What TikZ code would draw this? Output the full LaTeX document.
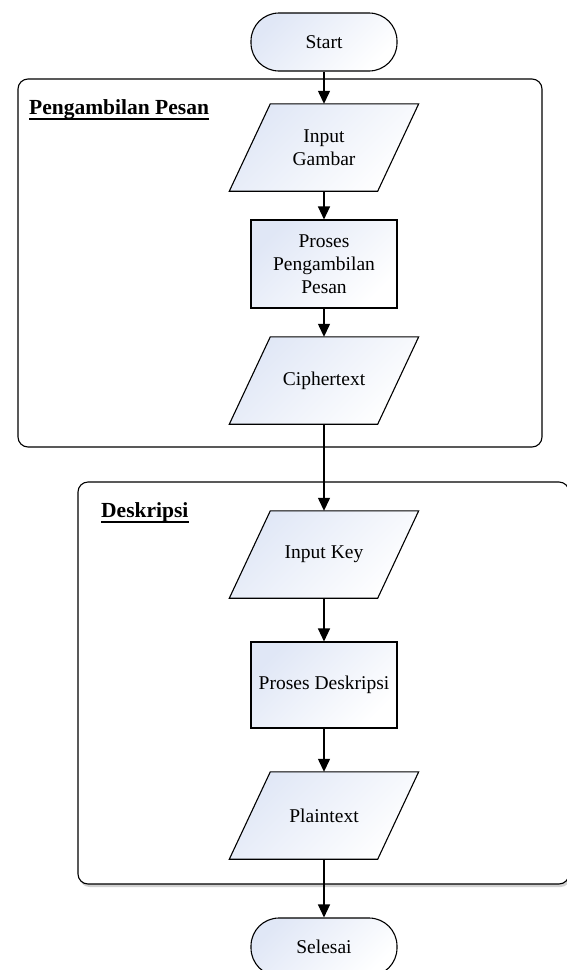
\documentclass[tikz,border=0pt]{standalone}
\usepackage{fontspec}
\setmainfont{Liberation Serif}
\usetikzlibrary{arrows.meta,shadows}
\pgfdeclarelayer{groups}
\pgfdeclarelayer{shapes}
\pgfsetlayers{groups,shapes,main}
\definecolor{nodeblue}{RGB}{224,231,246}
\tikzset{
  txt/.style={font=\fontsize{19.5}{23}\selectfont, align=center},
  procbox/.style={txt, draw=black, line width=1.1pt, top color=nodeblue, bottom color=white, shading angle=45, minimum width=146pt, inner sep=2pt},
  termbox/.style={txt, draw=black, line width=1.1pt, top color=nodeblue, bottom color=white, shading angle=45, rounded corners=28pt, minimum width=146pt, minimum height=58pt},
  iotext/.style={txt, minimum width=148pt, minimum height=87pt, inner sep=0pt},
  ioshape/.style={draw=black, line width=1.1pt, top color=nodeblue, bottom color=white, shading angle=45},
  groupbox/.style={draw=black, line width=1.1pt, rounded corners=10pt, fill=white},
  grouplabel/.style={font=\fontsize{21.5}{25}\selectfont\bfseries, inner sep=0pt, anchor=base west},
  flow/.style={line width=1.3pt, -{Triangle[length=13pt,width=12pt]}},
  uline/.style={line width=1.1pt}
}
\newcommand\drawio[1]{%
  \begin{pgfonlayer}{shapes}
  \path[ioshape] ([xshift=20.5pt]#1.north west) -- ([xshift=20.5pt]#1.north east)
     -- ([xshift=-20.5pt]#1.south east) -- ([xshift=-20.5pt]#1.south west) -- cycle;
  \end{pgfonlayer}}
\begin{document}
\begin{tikzpicture}[x=1pt,y=-1pt]
\useasboundingbox (0,0) rectangle (567,970);

% background and group boxes
\begin{pgfonlayer}{groups}
\fill[white] (0,0) rectangle (567,970);
\draw[groupbox] (18,79) rectangle (542,447);
\draw[groupbox, drop shadow={shadow xshift=1.5pt, shadow yshift=-3pt, opacity=0.18, fill=black}] (78,482) rectangle (569,884);
\end{pgfonlayer}

\node[grouplabel] (lbl1) at (29,114) {Pengambilan Pesan};
\draw[uline] ([yshift=-5pt]lbl1.base west) -- ([yshift=-5pt]lbl1.base east);
\node[grouplabel] (lbl2) at (101,517) {Deskripsi};
\draw[uline] ([yshift=-5pt]lbl2.base west) -- ([yshift=-5pt]lbl2.base east);

% nodes
\node[termbox] (start) at (324,42) {Start};
\node[iotext] (ig) at (324,147.5) {Input\\Gambar};
\drawio{ig}
\node[procbox, minimum height=88pt] (ppp) at (324,264) {Proses\\Pengambilan\\Pesan};
\node[iotext] (ct) at (324,380.5) {Ciphertext};
\drawio{ct}
\node[iotext] (ik) at (324,554.5) {Input Key};
\drawio{ik}
\node[procbox, minimum height=86pt] (pd) at (324,685) {Proses Deskripsi};
\node[iotext] (pt) at (324,815.5) {Plaintext};
\drawio{pt}
\node[termbox] (sel) at (324,947) {Selesai};

% connectors
\draw[flow] (start.south) -- (ig.north);
\draw[flow] (ig.south) -- (ppp.north);
\draw[flow] (ppp.south) -- (ct.north);
\draw[flow] (ct.south) -- (ik.north);
\draw[flow] (ik.south) -- (pd.north);
\draw[flow] (pd.south) -- (pt.north);
\draw[flow] (pt.south) -- (sel.north);
\end{tikzpicture}
\end{document}
